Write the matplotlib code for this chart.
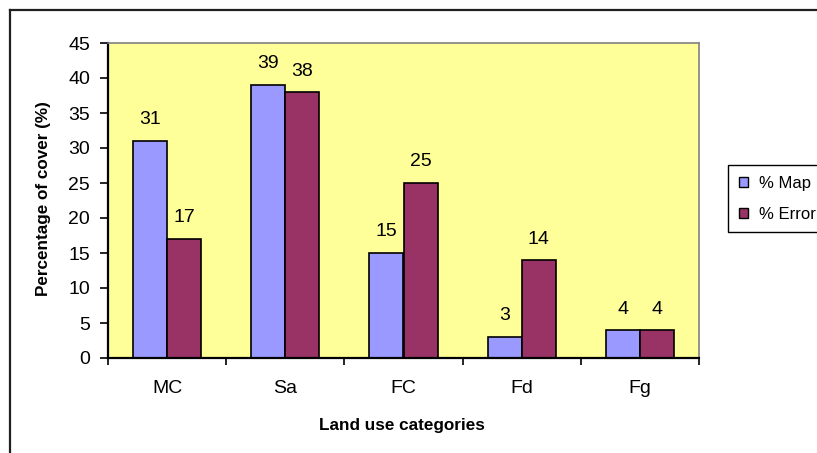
import matplotlib
matplotlib.use("Agg")
import matplotlib.pyplot as plt
import numpy as np
from matplotlib.lines import Line2D
from matplotlib.patches import Patch

plt.rcParams["font.family"] = ["Liberation Sans", "DejaVu Sans"]

categories = ["MC", "Sa", "FC", "Fd", "Fg"]
pct_map = [31, 39, 15, 3, 4]
pct_error = [17, 38, 25, 14, 4]
series_names = ["% Map", "% Error"]
colors = ["#9999FF", "#993366"]

W, H = 817, 453
fig = plt.figure(figsize=(W / 100, H / 100), dpi=100)

# outer chart-area border (only top and left are inside the picture)
fig.add_artist(Line2D([10 / W, 1.0], [1 - 10 / H, 1 - 10 / H], color="#202020",
                      lw=1.6, transform=fig.transFigure))
fig.add_artist(Line2D([10 / W, 10 / W], [0.0, 1 - 10 / H], color="#202020",
                      lw=1.6, transform=fig.transFigure))

ax = fig.add_axes([108 / W, (H - 358) / H, 591 / W, 315 / H])
ax.set_facecolor("#FFFF99")

x = np.arange(len(categories))
bw = 0.288
b1 = ax.bar(x - bw / 2, pct_map, bw, color=colors[0], edgecolor="black", lw=1.2)
b2 = ax.bar(x + bw / 2, pct_error, bw, color=colors[1], edgecolor="black", lw=1.2)

for bars, vals in ((b1, pct_map), (b2, pct_error)):
    for r, v in zip(bars, vals):
        ax.text(r.get_x() + r.get_width() / 2, v + 3, str(v),
                ha="center", va="center", fontsize=14)

ax.set_xlim(-0.5, len(categories) - 0.5)
ax.set_ylim(0, 45)
ax.set_yticks(np.arange(0, 46, 5))
ax.set_xticks(x)
ax.set_xticklabels(categories)
ax.set_xticks(np.arange(-0.5, len(categories), 1), minor=True)
ax.tick_params(axis="x", which="major", length=0, pad=16, labelsize=14)
ax.tick_params(axis="x", which="minor", length=5, width=1.2, direction="out")
ax.tick_params(axis="y", length=6, width=1.2, direction="out", labelsize=14, pad=7)

for s in ("top", "right"):
    ax.spines[s].set_color("#808080")
    ax.spines[s].set_linewidth(1.2)
for s in ("left", "bottom"):
    ax.spines[s].set_color("black")
    ax.spines[s].set_linewidth(1.6)

ax.set_ylabel("Percentage of cover (%)", fontsize=12.3, fontweight="bold")
ax.set_xlabel("Land use categories", fontsize=12.3, fontweight="bold")
ax.yaxis.set_label_coords(-0.097, 0.505)
ax.xaxis.set_label_coords(0.498, -0.19)

handles = [Patch(facecolor=c, edgecolor="black", lw=1.0) for c in colors]
fig.legend(handles, series_names, loc="upper left",
           bbox_to_anchor=(728 / W, 1 - 165 / H), fontsize=12,
           frameon=True, fancybox=False, edgecolor="black", framealpha=1,
           handlelength=0.55, handleheight=0.55, handletextpad=0.65,
           borderpad=0.65, labelspacing=0.95, borderaxespad=0)

fig.savefig("out.png", dpi=100)
